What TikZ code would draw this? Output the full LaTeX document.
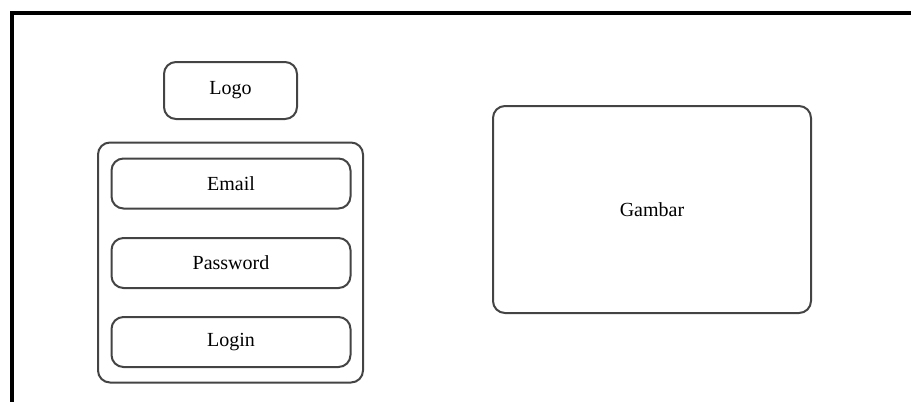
\documentclass[tikz,border=0pt]{standalone}
\usepackage{fontspec}
\setmainfont{Liberation Serif}
\definecolor{boxgray}{HTML}{444444}
\begin{document}
\begin{tikzpicture}[x=0.75pt,y=-0.75pt,
  box/.style={draw=boxgray,line width=1.5pt,rounded corners=9pt,inner sep=0pt,
    font=\fontsize{15}{18}\selectfont},
  frame/.style={draw=black,line width=2.4pt}]
\useasboundingbox (0,0) rectangle (911,401);
\coordinate (fb) at (12,402);
\coordinate (fc) at (12,13);
\coordinate (fr) at (912,13);
\draw[frame] (fb) -- (fc) -- (fr);
\node[box,minimum width=99.75pt,minimum height=42.75pt] (logo) at (230.5,90.5) {Logo};
\node[box,minimum width=198.75pt,minimum height=180pt] (form) at (230.5,262.5) {};
\node[box,minimum width=179.25pt,minimum height=37.5pt] (email) at (231,183.5) {Email};
\node[box,minimum width=179.25pt,minimum height=37.5pt] (pass) at (231,263) {Password};
\node[box,minimum width=179.25pt,minimum height=37.5pt] (login) at (231,342) {Login};
\node[box,minimum width=238.5pt,minimum height=155.25pt] (gambar) at (652,209.5) {Gambar};
\end{tikzpicture}
\end{document}
